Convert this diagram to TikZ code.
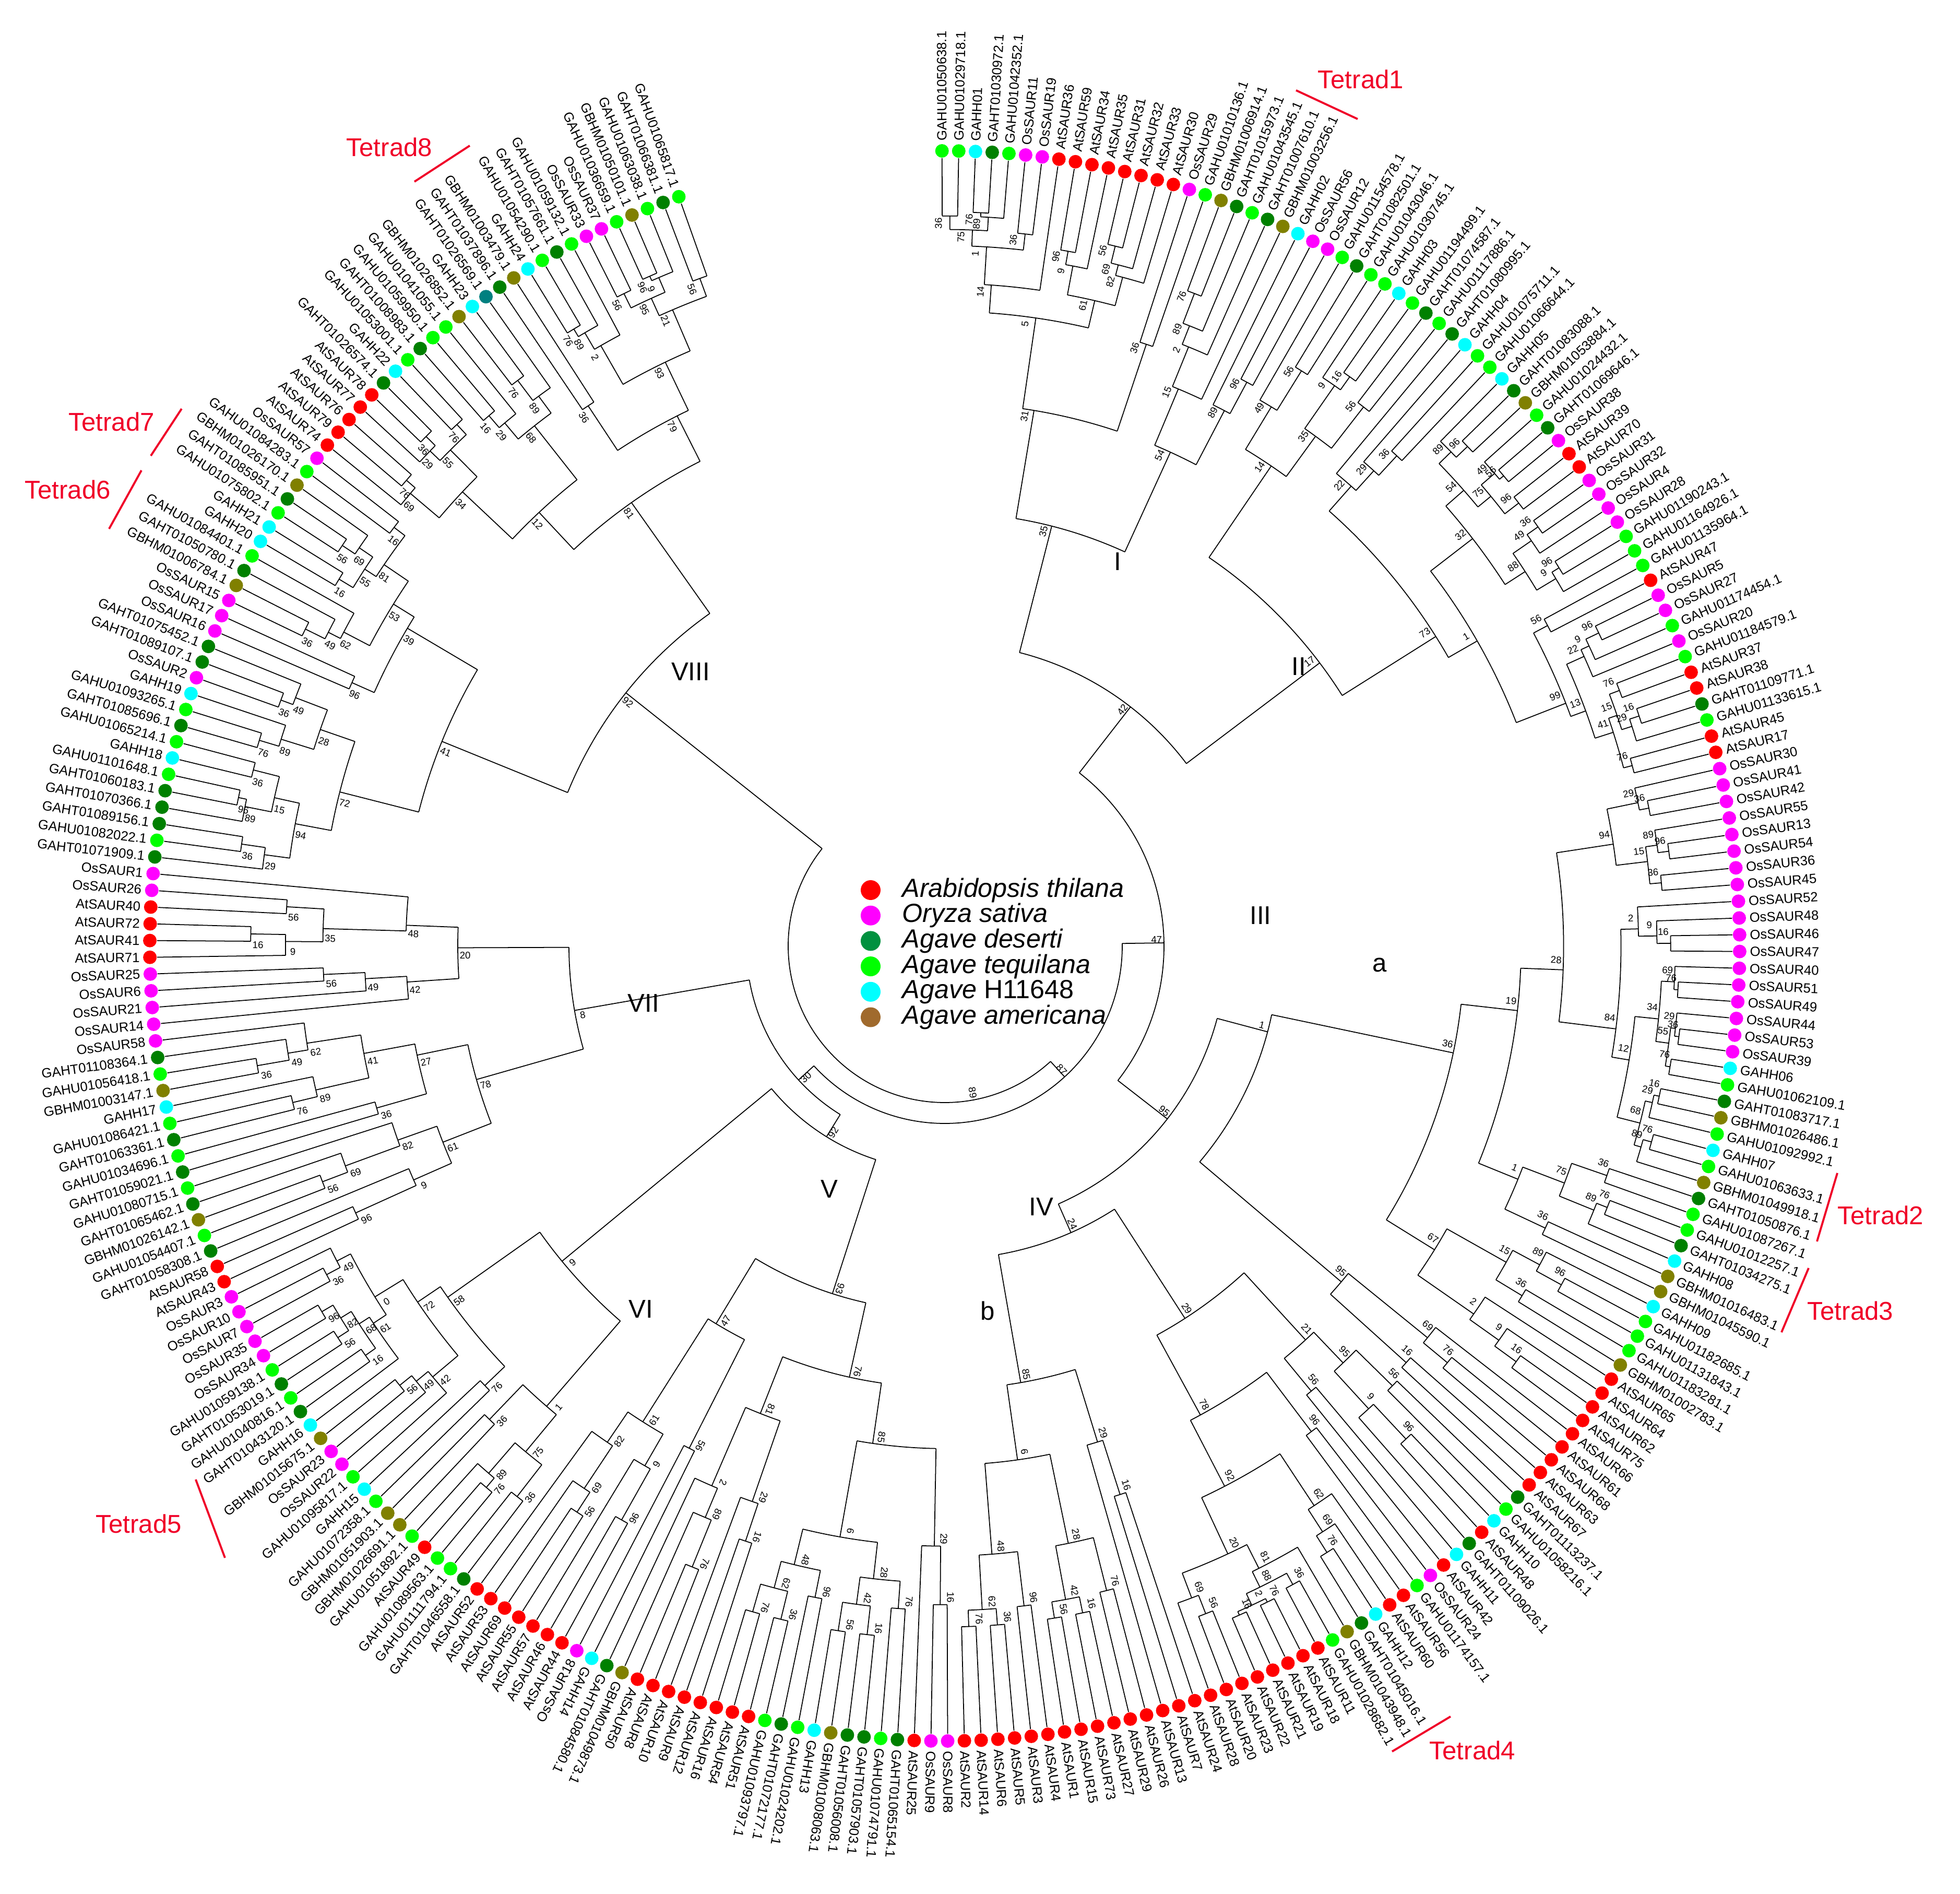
\documentclass[tikz,border=0pt]{standalone}
\usepackage{fontspec}
\setmainfont{Liberation Sans}
\definecolor{kr}{RGB}{255,0,0}
\definecolor{km}{RGB}{255,0,255}
\definecolor{kd}{RGB}{0,128,0}
\definecolor{kg}{RGB}{0,255,0}
\definecolor{kc}{RGB}{0,255,255}
\definecolor{ko}{RGB}{128,128,0}
\definecolor{kt}{RGB}{0,128,128}
\definecolor{lgd}{RGB}{0,145,63}
\definecolor{lgb}{RGB}{160,106,45}
\definecolor{tred}{RGB}{240,0,40}
\tikzset{
 br/.style={line width=0.5pt,black},
 bsl/.style={font=\fontsize{5.3}{6}\selectfont,inner sep=0pt},
 leaflab/.style={font=\fontsize{7.3}{8}\selectfont,inner sep=0pt},
 clab/.style={font=\fontsize{14}{16}\selectfont,inner sep=0pt},
 tet/.style={font=\fontsize{14}{16}\selectfont,text=tred,inner sep=0pt},
 tline/.style={tred,line width=1.1pt},
 lgt/.style={font=\fontsize{14.3}{16}\selectfont\itshape,anchor=west,inner sep=0pt}
}
\newcommand\leafline[2]{%
 \pgfmathsetmacro\aL{90.2-(#1-1)*1.208}%
 \pgfmathsetmacro\rP{#2/100}%
 \draw[br] (\aL:15.09) -- (\aL:\rP);}
\newcommand\tnode[5]{%
 \pgfmathsetmacro\aN{90.2-((#1+#3)/2-1)*1.208}%
 \pgfmathsetmacro\aA{90.2-((#1+#2)/2-1)*1.208}%
 \pgfmathsetmacro\aB{90.2-((#2+1+#3)/2-1)*1.208}%
 \pgfmathsetmacro\rN{#4/100}\pgfmathsetmacro\rP{#5/100}%
 \draw[br] (\aN:\rN) -- (\aN:\rP);
 \draw[br] (\aA:\rN) arc[start angle=\aA, end angle=\aB, radius=\rN cm];
 \pgfmathtruncatemacro\bs{mod(#1*7+#3*13+3,100)}%
 \pgfmathtruncatemacro\fl{\aN<-117}%
 \pgfmathsetmacro\rot{\fl==1 ? \aN+180 : \aN}%
 \pgfmathsetmacro\aT{\aN+0.9}\pgfmathsetmacro\rT{\rN-0.14}%
 \node[bsl,rotate=\rot] at (\aT:\rT) {\bs};}
\newcommand\gen[4]{%
 \ifnum#1=#2\relax \leafline{#1}{#4}\else
  \begingroup
  \pgfmathtruncatemacro\mm{#1+floor((#2-#1)*(mod(#1*37+#2*11,9)+1)/10)}%
  \pgfmathsetmacro\rc{#3+(1430-#3)*(0.2+0.05*mod(#1+2*#2,6))}%
  \tnode{#1}{\mm}{#2}{#3}{#4}%
  \pgfmathtruncatemacro\mq{\mm+1}%
  \edef\next{\noexpand\gen{#1}{\mm}{\rc}{#3}\noexpand\gen{\mq}{#2}{\rc}{#3}}%
  \expandafter\endgroup\next
 \fi}
\begin{document}
\begin{tikzpicture}
\useasboundingbox (-18.10,-18.15) rectangle (19.45,18.12);
% backbone
\tnode{1}{229}{283}{300}{300}
\gen{230}{283}{780}{300}
\tnode{1}{149}{229}{340}{300}
\tnode{150}{203}{229}{380}{340}
\gen{204}{229}{720}{380}
\tnode{150}{180}{203}{430}{380}
\gen{150}{180}{700}{430}
\gen{181}{203}{950}{430}
\tnode{1}{64}{149}{420}{340}
\tnode{1}{25}{64}{580}{420}
\gen{1}{25}{830}{580}
\gen{26}{64}{900}{580}
\tnode{65}{111}{149}{540}{420}
\gen{65}{111}{640}{540}
\gen{112}{149}{600}{540}
% leaves
\foreach \nm/\cl [count=\i] in {
GAHU01050638.1/g,GAHU01029718.1/g,GAHH01/c,GAHT01030972.1/d,GAHU01042352.1/g,OsSAUR11/m,OsSAUR19/m,AtSAUR36/r,AtSAUR59/r,AtSAUR34/r,
AtSAUR35/r,AtSAUR31/r,AtSAUR32/r,AtSAUR33/r,AtSAUR30/r,OsSAUR29/m,GAHU01010136.1/g,GBHM01006914.1/o,GAHT01015973.1/d,GAHU01043545.1/g,
GAHT01007610.1/d,GBHM01003256.1/o,GAHH02/c,OsSAUR56/m,OsSAUR12/m,GAHU01154578.1/g,GAHT01082501.1/d,GAHU01043046.1/g,GAHU01030745.1/g,GAHH03/c,
GAHU01194499.1/g,GAHT01074587.1/d,GAHU01117886.1/g,GAHT01080995.1/d,GAHH04/c,GAHU01075711.1/g,GAHU01066644.1/g,GAHH05/c,GAHT01083088.1/d,GBHM01053884.1/o,
GAHU01024432.1/g,GAHT01069646.1/d,OsSAUR38/m,AtSAUR39/r,AtSAUR70/r,OsSAUR31/m,OsSAUR32/m,OsSAUR4/m,OsSAUR28/m,GAHU01190243.1/g,
GAHU01164926.1/g,GAHU01135964.1/g,AtSAUR47/r,OsSAUR5/m,OsSAUR27/m,GAHU01174454.1/g,OsSAUR20/m,GAHU01184579.1/g,AtSAUR37/r,AtSAUR38/r,
GAHT01109771.1/d,GAHU01133615.1/g,AtSAUR45/r,AtSAUR17/r,OsSAUR30/m,OsSAUR41/m,OsSAUR42/m,OsSAUR55/m,OsSAUR13/m,OsSAUR54/m,
OsSAUR36/m,OsSAUR45/m,OsSAUR52/m,OsSAUR48/m,OsSAUR46/m,OsSAUR47/m,OsSAUR40/m,OsSAUR51/m,OsSAUR49/m,OsSAUR44/m,
OsSAUR53/m,OsSAUR39/m,GAHH06/c,GAHU01062109.1/g,GAHT01083717.1/d,GBHM01026486.1/o,GAHU01092992.1/g,GAHH07/c,GAHU01063633.1/g,GBHM01049918.1/o,
GAHT01050876.1/d,GAHU01087267.1/g,GAHU01012257.1/g,GAHT01034275.1/d,GAHH08/c,GBHM01016483.1/o,GBHM01045590.1/o,GAHH09/c,GAHU01182685.1/g,GAHU01131843.1/g,
GAHU01183281.1/g,GBHM01002783.1/o,AtSAUR65/r,AtSAUR64/r,AtSAUR62/r,AtSAUR75/r,AtSAUR66/r,AtSAUR61/r,AtSAUR68/r,AtSAUR63/r,
AtSAUR67/r,GAHT01113237.1/d,GAHU01058216.1/g,GAHH10/c,AtSAUR48/r,GAHT01109026.1/d,GAHH11/c,AtSAUR42/r,OsSAUR24/m,GAHU01174157.1/g,
AtSAUR56/r,AtSAUR60/r,GAHH12/c,GAHT01045016.1/d,GBHM01043948.1/o,GAHU01028682.1/g,AtSAUR11/r,AtSAUR18/r,AtSAUR19/r,AtSAUR21/r,
AtSAUR22/r,AtSAUR23/r,AtSAUR20/r,AtSAUR28/r,AtSAUR24/r,AtSAUR7/r,AtSAUR13/r,AtSAUR26/r,AtSAUR29/r,AtSAUR27/r,
AtSAUR73/r,AtSAUR15/r,AtSAUR1/r,AtSAUR4/r,AtSAUR3/r,AtSAUR5/r,AtSAUR6/r,AtSAUR14/r,AtSAUR2/r,OsSAUR8/m,
OsSAUR9/m,AtSAUR25/r,GAHT01065154.1/d,GAHU01074791.1/g,GAHT01057903.1/d,GAHT01056008.1/d,GBHM01008063.1/o,GAHH13/c,GAHU01024202.1/g,GAHT01072177.1/d,
GAHU01093797.1/g,AtSAUR51/r,AtSAUR54/r,AtSAUR16/r,AtSAUR12/r,AtSAUR9/r,AtSAUR10/r,AtSAUR8/r,AtSAUR50/r,GBHM01049873.1/o,
GAHT01084580.1/d,GAHH14/c,OsSAUR18/m,AtSAUR44/r,AtSAUR46/r,AtSAUR57/r,AtSAUR55/r,AtSAUR69/r,AtSAUR53/r,AtSAUR52/r,
GAHT01046558.1/d,GAHU01111794.1/g,GAHU01089563.1/g,AtSAUR49/r,GAHU01051892.1/g,GBHM01026691.1/o,GBHM01051903.1/o,GAHU01072358.1/g,GAHH15/c,GAHU01095817.1/g,
OsSAUR22/m,OsSAUR23/m,GBHM01015675.1/o,GAHH16/c,GAHT01043120.1/d,GAHU01040816.1/g,GAHT01053019.1/d,GAHU01059138.1/g,OsSAUR34/m,OsSAUR35/m,
OsSAUR7/m,OsSAUR10/m,OsSAUR3/m,AtSAUR43/r,AtSAUR58/r,GAHT01058308.1/d,GAHU01054407.1/g,GBHM01026142.1/o,GAHT01065462.1/d,GAHU01080715.1/g,
GAHT01059021.1/d,GAHU01034696.1/g,GAHT01063361.1/d,GAHU01086421.1/g,GAHH17/c,GBHM01003147.1/o,GAHU01056418.1/g,GAHT01108364.1/d,OsSAUR58/m,OsSAUR14/m,
OsSAUR21/m,OsSAUR6/m,OsSAUR25/m,AtSAUR71/r,AtSAUR41/r,AtSAUR72/r,AtSAUR40/r,OsSAUR26/m,OsSAUR1/m,GAHT01071909.1/d,
GAHU01082022.1/g,GAHT01089156.1/d,GAHT01070366.1/d,GAHT01060183.1/d,GAHU01101648.1/g,GAHH18/c,GAHU01065214.1/g,GAHT01085696.1/d,GAHU01093265.1/g,GAHH19/c,
OsSAUR2/m,GAHT01089107.1/d,GAHT01075452.1/d,OsSAUR16/m,OsSAUR17/m,OsSAUR15/m,GBHM01006784.1/o,GAHT01050780.1/d,GAHU01084401.1/g,GAHH20/c,
GAHH21/c,GAHU01075802.1/g,GAHT01085951.1/d,GBHM01026170.1/o,GAHU01084283.1/g,OsSAUR57/m,AtSAUR74/r,AtSAUR79/r,AtSAUR76/r,AtSAUR77/r,
AtSAUR78/r,GAHT01026574.1/d,GAHH22/c,GAHU01053001.1/g,GAHT01008983.1/d,GAHU01059950.1/g,GAHU01041055.1/g,GBHM01026852.1/o,GAHH23/c,GAHT01026569.1/t,
GAHT01037896.1/d,GBHM01003479.1/o,GAHH24/c,GAHU01054290.1/g,GAHT01057661.1/d,GAHU01059132.1/g,OsSAUR33/m,OsSAUR37/m,GAHU01036659.1/g,GBHM01050101.1/o,
GAHU01063038.1/g,GAHT01066381.1/d,GAHU01065817.1/g}{
 \pgfmathsetmacro\ang{90.2-(\i-1)*1.208}
 \fill[k\cl] (\ang:15.23) circle[radius=0.13];
 \pgfmathtruncatemacro\fl{\ang<-117}
 \ifnum\fl=1
  \node[leaflab,anchor=east,rotate=\ang+180] (L\i) at (\ang:15.42) {\nm};
 \else
  \node[leaflab,anchor=west,rotate=\ang] (L\i) at (\ang:15.42) {\nm};
 \fi
}
% clade labels
\node[clab] (cI) at (3.31,7.36) {I};
\node[clab] (cII) at (6.78,5.35) {II};
\node[clab] (cIII) at (6.05,0.58) {III};
\node[clab] (ca) at (8.33,-0.36) {a};
\node[clab] (cIV) at (1.85,-5.00) {IV};
\node[clab] (cb) at (0.82,-6.99) {b};
\node[clab] (cV) at (-2.21,-4.66) {V};
\node[clab] (cVI) at (-5.82,-6.96) {VI};
\node[clab] (cVII) at (-5.77,-1.10) {VII};
\node[clab] (cVIII) at (-4.87,5.25) {VIII};
% tetrads
\node[tet] (t1) at (7.97,16.60) {Tetrad1};
\draw[tline] (6.73,16.39) -- (7.91,15.84);
\node[tet] (t2) at (17.93,-5.16) {Tetrad2};
\draw[tline] (17.10,-4.35) -- (16.71,-5.66);
\node[tet] (t3) at (17.35,-6.99) {Tetrad3};
\draw[tline] (16.55,-6.17) -- (16.03,-7.40);
\node[tet] (t4) at (10.11,-15.41) {Tetrad4};
\draw[tline] (8.57,-15.43) -- (9.69,-14.76);
\node[tet] (t5) at (-15.44,-11.07) {Tetrad5};
\draw[tline] (-14.35,-10.22) -- (-13.79,-11.72);
\node[tet] (t6) at (-16.80,8.74) {Tetrad6};
\draw[tline] (-15.39,9.11) -- (-16.01,7.99);
\node[tet] (t7) at (-15.96,10.04) {Tetrad7};
\draw[tline] (-14.62,10.29) -- (-15.21,9.39);
\node[tet] (t8) at (-10.64,15.30) {Tetrad8};
\draw[tline] (-9.10,15.33) -- (-10.16,14.64);
% legend
\foreach \c/\t [count=\k] in {kr/Arabidopsis thilana,km/Oryza sativa,lgd/Agave deserti,kg/Agave tequilana,kc/Agave \upshape H11648,lgb/Agave americana}{
 \pgfmathsetmacro\yy{1.07-(\k-1)*0.487}
 \fill[\c] (-1.42,\yy) circle[radius=0.19];
 \node[lgt] (lg\k) at (-0.82,\yy) {\t};
}
\end{tikzpicture}
\end{document}
